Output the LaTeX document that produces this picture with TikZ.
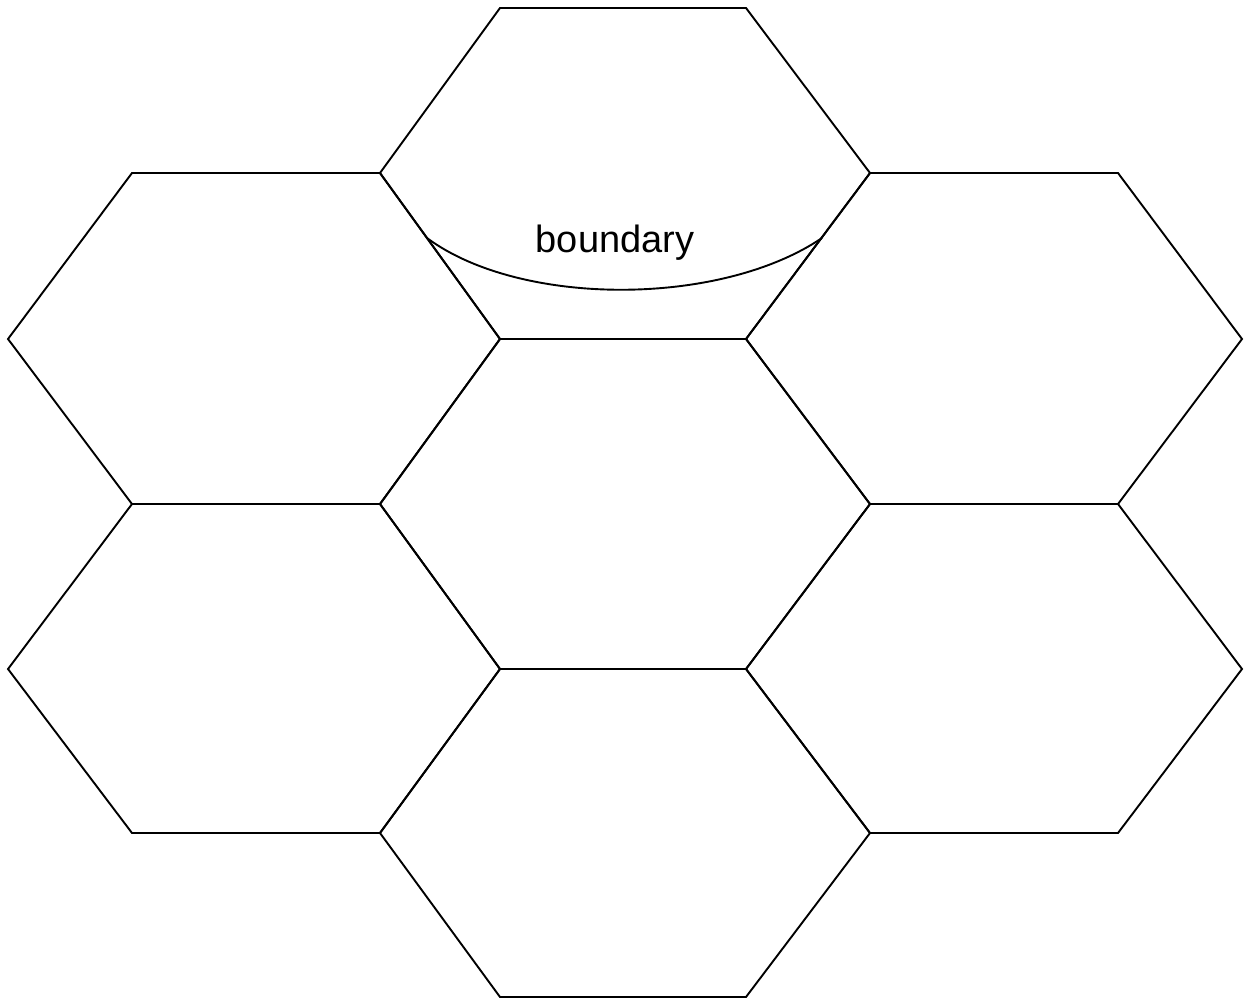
\documentclass[tikz,border=0pt]{standalone}
\usepackage{fontspec}
\setmainfont{Liberation Sans}
\begin{document}
\begin{tikzpicture}[x=1pt,y=-1pt,
  hexline/.style={draw=black,line width=1.9pt,line join=miter},
  bline/.style={draw=black,line width=1.9pt}]
\useasboundingbox (0,0) rectangle (1254,1002);
\fill[white] (0,0) rectangle (1254,1002);
% hexagon: #1 top-left x, #2 top-right x, #3 left x, #4 right x, #5 top y, #6 middle y, #7 bottom y
\newcommand\hexcell[7]{%
  \draw[hexline] (#1,#5) -- (#2,#5) -- (#4,#6) -- (#2,#7) -- (#1,#7) -- (#3,#6) -- cycle;}
\hexcell{500}{746}{380}{870}{8}{173}{339}     % top
\hexcell{500}{746}{380}{870}{339}{504}{669}   % centre
\hexcell{500}{746}{380}{870}{669}{833}{997}   % bottom
\hexcell{132}{380}{8}{500}{173}{339}{504}     % left upper
\hexcell{132}{380}{8}{500}{504}{669}{833}     % left lower
\hexcell{870}{1118}{746}{1242}{173}{339}{504} % right upper
\hexcell{870}{1118}{746}{1242}{504}{669}{833} % right lower
% boundary curve
\coordinate (bl) at (427,238);
\coordinate (br) at (822,238);
\draw[bline] (bl) .. controls (520,307) and (720,307) .. (br);
\node[anchor=base,inner sep=0pt,font=\fontsize{38}{40}\selectfont] (blabel) at (615,252) {boundary};
\end{tikzpicture}
\end{document}
